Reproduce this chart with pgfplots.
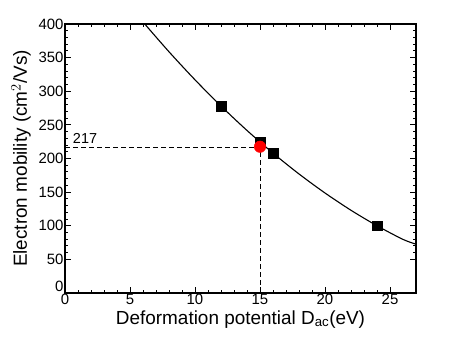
\documentclass[border=0pt]{standalone}
\usepackage{pgfplots}
\pgfplotsset{compat=1.18}
\usepackage{fontspec}
\setmainfont{Liberation Sans}
\begin{document}
\begin{tikzpicture}
\useasboundingbox (-65bp,-58bp) rectangle (409bp,293bp);
\begin{axis}[
  scale only axis,
  width=351bp, height=269bp,
  xmin=0, xmax=27, ymin=0, ymax=400,
  xtick={0,5,10,15,20,25},
  ytick={50,100,150,200,250,300,350,400},
  extra y ticks={0},
  extra y tick style={yticklabel style={yshift=7bp}},
  minor x tick num=4, minor y tick num=4,
  tick align=inside,
  major tick length=6bp, minor tick length=3bp,
  every tick/.style={black, line width=0.9bp},
  axis line style={line width=1.3bp},
  /pgf/number format/assume math mode=true,
  ticklabel style={font=\fontsize{15}{15}\selectfont},
  xticklabel style={yshift=2bp},
  yticklabel style={xshift=2bp},
  xlabel={Deformation potential D$_{\mathrm{ac}}$(eV)},
  ylabel={Electron mobility (cm$^2$/Vs)},
  label style={font=\fontsize{19}{19}\selectfont},
  xlabel style={at={(axis description cs:0.5,0)}, anchor=base, yshift=-31bp},
  ylabel style={at={(axis description cs:-0.125,0.5)}, anchor=center},
  clip=true,
]
\addplot[black, line width=1.1bp, smooth] coordinates {
(6,403) (8,358.7) (10,317) (12,278) (14,241.7) (16,208) (18,177)
(20,148.7) (22,123) (24,100) (26,79.7) (27,72.6)};
\addplot[black, line width=0.9bp, dash pattern=on 5bp off 3bp] coordinates {(0,217) (15,217)};
\addplot[black, line width=0.9bp, dash pattern=on 5bp off 3bp] coordinates {(15,0) (15,217)};
\addplot[only marks, mark=square*, mark size=4.8bp, black] coordinates {
(12,278) (15,224) (16,208) (24,100)};
\addplot[only marks, mark=*, mark size=5.8bp, draw=red, fill=red] coordinates {(15,217.5)};
\node[anchor=base west, font=\fontsize{14.5}{14.5}\selectfont, inner sep=0pt] at (axis cs:0.6,222) {217};
\end{axis}
\end{tikzpicture}
\end{document}
